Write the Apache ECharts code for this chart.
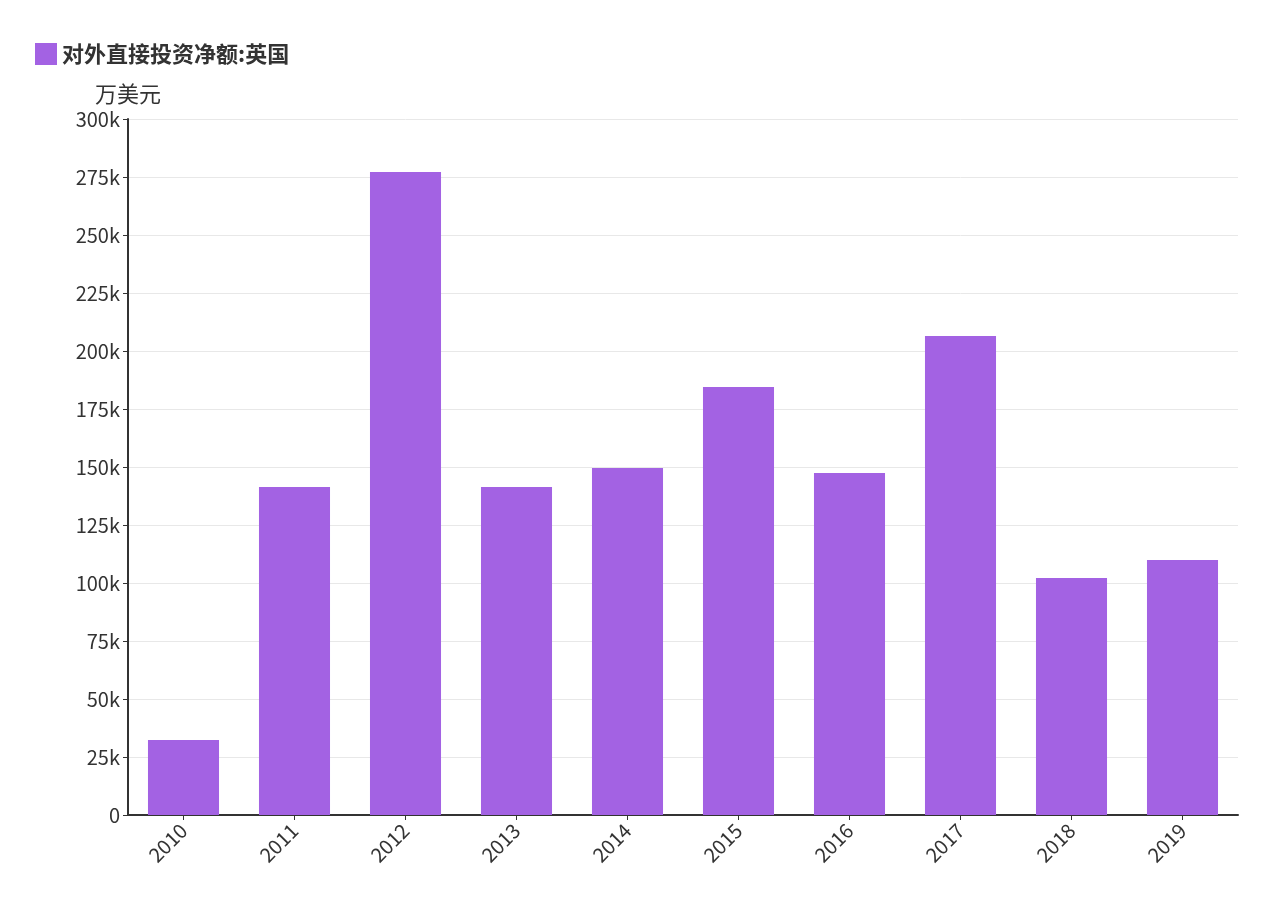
<!DOCTYPE html>
<html><head><meta charset="utf-8">
<script src="https://cdn.jsdelivr.net/npm/echarts@6/dist/echarts.min.js"></script>
<style>html,body{margin:0;padding:0;background:#fff}#c{width:1269px;height:922px}</style>
</head><body><div id="c"></div>
<script>
const categories = ['2010','2011','2012','2013','2014','2015','2016','2017','2018','2019'];
const seriesName = '对外直接投资净额:英国';
const values = [32300,141400,277200,141400,149600,184500,147400,206500,102200,109900];
const chart = echarts.init(document.getElementById('c'));
const font = '"Noto Sans CJK SC","Noto Sans",sans-serif';
chart.setOption({
  textStyle:{fontFamily:font},
  legend:{left:30,top:38,itemWidth:22,itemHeight:22,icon:'rect',
    textStyle:{fontSize:22,fontWeight:'bold',color:'#333',fontFamily:font},data:[seriesName]},
  grid:{left:128,right:31,top:119,bottom:107},
  xAxis:{type:'category',data:categories,
    axisLine:{lineStyle:{color:'#333',width:2}},
    axisTick:{show:true,alignWithLabel:true,lineStyle:{color:'#333'}},
    axisLabel:{rotate:45,fontSize:20,color:'#333',margin:12,fontFamily:font}},
  yAxis:{type:'value',min:0,max:300000,interval:25000,name:'万美元',
    nameLocation:'end',nameGap:14,nameTextStyle:{fontSize:22,color:'#333',align:'center',padding:[0,0,0,0]},
    axisLine:{show:true,lineStyle:{color:'#333',width:2}},
    axisTick:{show:true,lineStyle:{color:'#333'}},
    splitLine:{lineStyle:{color:'#e8e8e8'}},
    axisLabel:{fontSize:20,color:'#333',fontFamily:font,
      formatter:v=>v===0?'0':(v/1000)+'k'}},
  series:[{name:seriesName,type:'bar',data:values,barWidth:'64%',
    itemStyle:{color:'#a362e3'}}]
});
</script></body></html>
